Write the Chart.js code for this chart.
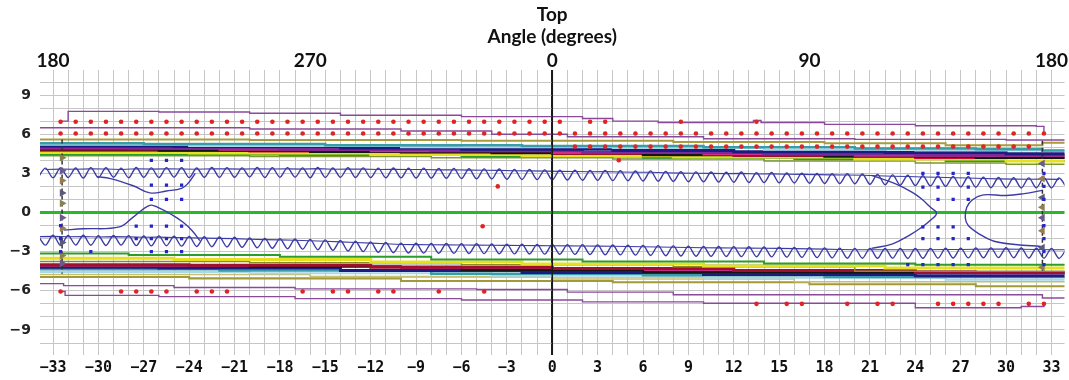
<!DOCTYPE html>
<html>
<head>
<meta charset="utf-8">
<script src="https://cdn.jsdelivr.net/npm/chart.js@4.4.0/dist/chart.umd.min.js"></script>
<style>
  body { margin: 0; background: #fff; }
  #wrap { width: 1069px; height: 380px; }
</style>
</head>
<body>
<div id="wrap"><canvas id="chart" width="1069" height="380"></canvas></div>
<script>
// --- axes ---
const X_MIN = -33.86, X_MAX = 33.86;
const xGrid = [-33,-32,-31,-30,-29,-28,-27,-26,-25,-24,-23,-22,-21,-20,-19,-18,-17,-16,-15,-14,-13,-12,-11,-10,-9,-8,-7,-6,-5,-4,-3,-2,-1,
  0,1,2,3,4,5,6,7,8,9,10,11,12,13,14,15,16,17,18,19,20,21,22,23,24,25,26,27,28,29,30,31,32,33];
const yGrid = [-10,-9,-8,-7,-6,-5,-4,-3,-2,-1,0,1,2,3,4,5,6,7,8,9,10];
const bottomLabelAt = [-33,-30,-27,-24,-21,-18,-15,-12,-9,-6,-3,0,3,6,9,12,15,18,21,24,27,30,33];
const leftLabelAt = [-9,-6,-3,0,3,6,9];
const topLabelAt = [-33, -16, 0, 17, 33];
const topLabels = ['180', '270', '0', '90', '180'];
const centreLineY = [10.92, -10.92]; // the 0-degree line runs through both tick rows

// --- red dot rows (x positions, one y per row) ---
const redRowAx = [-32.5,-31.5,-30.5,-29.5,-28.5,-27.5,-26.5,-25.5,-24.5,-23.5,-22.5,-21.5,-20.5,-19.5,-18.5,-17.5,-16.5,-15.5,-14.5,-13.5,
  -12.5,-11.5,-10.5,-9.5,-8.5,-7.5,-6.5,-5.5,-4.5,-3.5,-2.5,-1.5,-0.5,0.5,2.5,3.5,8.5,13.5];
const redRowAy = 6.95;
const redRowBx = [-32.5,-31.5,-30.5,-29.5,-28.5,-27.5,-26.5,-25.5,-24.5,-23.5,-22.5,-21.5,-20.5,-19.5,-18.5,-17.5,-16.5,-15.5,-14.5,-13.5,
  -12.5,-11.5,-10.5,-9.5,-8.5,-7.5,-6.5,-5.5,-4.5,-3.5,-2.5,-1.5,-0.5,0.5,1.5,2.5,3.5,4.5,5.5,6.5,7.5,8.5,9.5,10.5,11.5,12.5,13.5,14.5,
  15.5,16.5,17.5,18.5,19.5,20.5,21.5,22.5,23.5,24.5,25.5,26.5,27.5,28.5,29.5,30.5,31.5,32.5];
const redRowBy = 6.05;
const redRowCx = [1.5,2.5,3.5,4.5,5.5,6.5,7.5,8.5,9.5,10.5,11.5,12.5,13.5,14.5,15.5,16.5,17.5,18.5,19.5,20.5,21.5,22.5,23.5,24.5,
  25.5,26.5,27.5,28.5,29.5,30.5,31.5];
const redRowCy = 5.05;
const redRowDx = [-32.5,-28.5,-27.5,-26.5,-25.5,-23.5,-22.5,-21.5,-16.5,-14.5,-13.5,-11.5,-10.5,-7.5,-4.5];
const redRowDy = -6.05;
const redRowEx = [13.5,15.5,16.5,19.5,21.5,22.5,25.5,26.5,27.5,28.5,29.5,31.5,32.5];
const redRowEy = -7.0;
const redSingles = [[-3.6, 2.0], [-4.6, -1.05], [4.4, 4.0]];

// --- blue dot clusters ---
const blueLeft = [[-26.5,4.0],[-25.5,4.0],[-24.5,4.0],[-26.5,2.1],[-25.5,2.1],[-24.5,2.1],[-26.5,1.0],[-25.5,1.0],[-24.5,1.0],
  [-32.5,-1.0],[-27.5,-1.05],[-26.5,-1.05],[-25.5,-1.05],[-24.5,-1.05],[-32.5,-2.0],[-27.5,-2.0],[-26.5,-2.0],[-25.5,-2.0],[-24.5,-2.0],
  [-32.5,-3.0],[-30.5,-3.0],[-26.5,-3.0],[-25.5,-3.0],[-24.5,-3.0]];
const blueRight = [[24.5,3.0],[25.5,3.0],[26.5,3.0],[27.5,3.0],[24.5,1.95],[25.5,1.95],[27.5,1.95],[25.5,1.0],[26.5,1.0],[27.5,1.0],
  [24.5,-1.1],[25.5,-1.1],[26.5,-1.1],[24.5,-2.0],[25.5,-2.0],[26.5,-2.0],[27.5,-2.0],
  [23.5,-4.0],[24.5,-4.0],[25.5,-4.0],[26.5,-4.0],[27.5,-4.0],
  [32.5,3.0],[32.5,2.0],[32.5,1.0],[32.5,-1.0],[32.5,-2.0],[32.5,-3.0],[32.5,-4.0]];

// --- edge markers on the dashed lines ---
const edgeLeftY = [4.2, 3.2, 2.45, 1.5, 0.7, -0.4, -1.2, -2.3, -3.3, -3.9];
const edgeRightY = [3.75, 2.6, 1.15, 0.4, -0.4, -1.4, -2.7, -4.2];
const edgeX = 32.4;

// --- blue waves: top wave troughs at integers (from -34), peaks at half integers (from -33.5) ---
const topWaveLo = [2.65,2.66,2.68,2.64,2.67,2.70,2.66,2.69,2.68,2.71,2.67,2.70,2.69,2.70,
  2.72,2.68,2.70,2.71,2.66,2.69,2.70,2.68,2.67,2.66,
  2.65,2.64,2.63,2.62,2.60,2.58,2.57,2.55,2.53,2.52,
  2.50,2.49,2.47,2.46,2.44,2.43,2.41,2.40,2.38,2.36,
  2.35,2.33,2.32,2.30,2.29,2.27,2.26,2.24,2.22,2.21,
  2.20,2.16,2.13,2.10,2.06,2.03,2.00,1.96,1.93,1.90,
  1.90,1.88,1.90,1.89,1.90];
const topWaveHi = [3.40,3.42,3.41,3.44,3.43,3.40,3.45,3.42,3.44,3.43,3.41,3.45,3.44,3.42,
  3.45,3.43,3.44,3.42,3.46,3.41,3.43,3.42,3.40,3.41,
  3.39,3.40,3.37,3.38,3.35,3.34,3.33,3.30,3.29,3.27,
  3.25,3.24,3.22,3.23,3.20,3.18,3.19,3.15,3.12,3.11,
  3.10,3.08,3.10,3.05,3.06,3.03,3.02,3.00,2.98,2.97,
  2.95,2.92,2.88,2.86,2.82,2.80,2.76,2.74,2.70,2.68,
  2.66,2.65,2.66,2.64];
// bottom wave: peaks at integers (from -34), troughs at half integers (from -33.5)
const botWaveHi = [-1.75,-1.73,-1.76,-1.74,-1.78,-1.75,-1.77,-1.80,-1.79,-1.82,-1.84,-1.86,-1.88,-1.90,
  -1.95,-1.98,-2.00,-2.03,-2.06,-2.10,-2.15,-2.20,-2.25,-2.30,
  -2.35,-2.36,-2.37,-2.38,-2.39,-2.40,-2.41,-2.42,-2.43,-2.44,
  -2.45,-2.46,-2.47,-2.48,-2.49,-2.50,-2.52,-2.54,-2.56,-2.58,
  -2.60,-2.61,-2.62,-2.63,-2.64,-2.65,-2.67,-2.69,-2.71,-2.73,
  -2.75,-2.75,-2.76,-2.75,-2.76,-2.75,-2.74,-2.73,-2.72,-2.71,
  -2.70,-2.72,-2.74,-2.75,-2.76];
const botWaveLo = [-2.50,-2.52,-2.49,-2.51,-2.53,-2.50,-2.54,-2.56,-2.55,-2.58,-2.60,-2.62,-2.64,-2.67,
  -2.70,-2.74,-2.78,-2.81,-2.85,-2.90,-2.95,-3.00,-3.05,-3.08,
  -3.10,-3.11,-3.12,-3.13,-3.14,-3.15,-3.16,-3.17,-3.18,-3.19,
  -3.20,-3.21,-3.22,-3.24,-3.25,-3.27,-3.29,-3.31,-3.33,-3.35,
  -3.36,-3.37,-3.38,-3.39,-3.40,-3.42,-3.44,-3.46,-3.48,-3.50,
  -3.50,-3.51,-3.50,-3.52,-3.51,-3.50,-3.49,-3.48,-3.47,-3.46,
  -3.47,-3.49,-3.50,-3.52];

// --- inner contours ---
const contourLeftUpper = [[-30.1,2.75],[-29.2,2.6],[-27.7,2.05],[-26.6,1.5],[-25.5,1.65],[-24.5,1.85],[-24.1,2.2],[-23.6,3.0]];
const contourLeftLower = [[-32.3,-1.35],[-31,-1.25],[-28.6,-1.1],[-27.7,-0.35],[-26.6,0.55],[-26,0.35],[-25.1,-0.2],[-24.4,-0.75],[-23.8,-1.4],[-23.3,-2.15]];
const contourRightA = [[21.1,2.85],[22.7,2.2],[23.8,1.55],[24.4,1.05],[25.0,0.4],[25.4,-0.05],[25.0,-0.6],[24.4,-1.15],[23.6,-1.75],[22.5,-2.4],[21.1,-2.75]];
const contourRightB = [[32.4,1.7],[31.2,1.45],[30,1.3],[28.5,1.35],[27.8,1.0],[27.4,0.4],[27.3,-0.4],[27.5,-1.0],[28.3,-1.7],[29.2,-2.2],[30.6,-2.45],[32.3,-2.6]];

// --- purple envelopes (stepped) ---
const envTopOuter = [[-32.5,7.0],[-32.0,7.75],[-26,7.7],[-20,7.6],[-14,7.45],[-6,7.35],[2,7.2],[4,7.0],[7,6.9],[13.3,7.05],[13.8,6.9],[18,6.75],[24,6.65],[32,6.6],[32.5,6.05]];
const envTopInner = [[-33.9,6.5],[-20,6.4],[-10,6.25],[-4,6.0],[1,5.8],[10,5.65],[20,5.6],[30,5.55],[33.9,5.5]];
const envBotInner = [[-33.9,-5.45],[-32.3,-5.6],[-25,-5.75],[-17,-5.85],[-5,-5.9],[1,-6.1],[8,-6.3],[32.4,-6.55],[33.9,-6.55]];
const envBotOuter = [[-32.5,-6.05],[-32.2,-6.35],[-26,-6.45],[-17,-6.6],[-6,-6.7],[2,-6.85],[10,-6.95],[24,-7.3],[31,-7.2],[32.5,-7.0]];

// --- coloured bands (stepped) ---
const topBand = [
  { color: '#a89c3c', w: 2,   pts: [[-33.9,5.6],[-20,5.55],[-6,5.5],[8,5.4],[18,5.3],[26,5.15],[32.4,5.35],[33.9,5.35]] },
  { color: '#3a9ca8', w: 2.5, pts: [[-33.9,5.3],[-27,5.25],[-15,5.15],[-2,5.1],[10,5.0],[20,4.9],[28,4.85],[32.4,4.75],[33.9,4.75]] },
  { color: '#a8d8e8', w: 2,   pts: [[-33.9,5.2],[-24,5.1],[-10,5.0],[4,4.95],[14,4.8],[24,4.75],[33.9,4.7]] },
  { color: '#1c1c80', w: 3,   pts: [[-33.9,5.1],[-25,5.05],[-14,4.95],[-6,4.85],[4,4.75],[12,4.65],[22,4.6],[30,4.5],[33.9,4.5]] },
  { color: '#7a2a9a', w: 3,   pts: [[-33.9,5.0],[-28,4.95],[-18,4.85],[-8,4.75],[2,4.6],[14,4.5],[24,4.4],[33.9,4.35]] },
  { color: '#d42a8a', w: 2,   pts: [[-33.9,4.9],[-22,4.8],[-12,4.7],[0,4.55],[10,4.45],[20,4.35],[33.9,4.25]] },
  { color: '#151515', w: 2.5, pts: [[-33.9,4.85],[-26,4.75],[-16,4.65],[-4,4.55],[6,4.4],[18,4.3],[28,4.2],[33.9,4.2]] },
  { color: '#c8102e', w: 2.5, pts: [[-33.9,4.75],[-20,4.7],[-10,4.6],[0,4.5],[12,4.35],[24,4.2],[33.9,4.1]] },
  { color: '#e6e020', w: 3,   pts: [[-33.9,4.6],[-24,4.55],[-12,4.45],[-2,4.35],[8,4.25],[20,4.1],[30,3.95],[33.9,3.9]] },
  { color: '#2c9c2c', w: 2,   pts: [[-33.9,4.45],[-18,4.4],[-6,4.3],[6,4.2],[16,4.1],[26,3.95],[33.9,3.85]] },
  { color: '#7a9a30', w: 1.5, pts: [[-33.9,4.35],[-20,4.3],[-8,4.2],[4,4.1],[14,3.95],[24,3.8],[30,3.7],[33.9,3.7]] }
];
const bottomBand = [
  { color: '#2c9c2c', w: 2,   pts: [[-33.9,-3.15],[-28,-3.25],[-18,-3.4],[-8,-3.6],[2,-3.75],[14,-3.9],[24,-4.0],[33.9,-4.0]] },
  { color: '#e6e020', w: 3,   pts: [[-33.9,-3.5],[-25,-3.6],[-12,-3.8],[-2,-3.95],[10,-4.1],[22,-4.25],[33.9,-4.3]] },
  { color: '#8a8a2a', w: 1.5, pts: [[-33.9,-3.75],[-20,-3.85],[-6,-4.0],[8,-4.15],[20,-4.5],[33.9,-4.55]] },
  { color: '#a0102c', w: 3,   pts: [[-33.9,-4.0],[-24,-4.05],[-12,-4.2],[0,-4.3],[12,-4.45],[24,-4.6],[33.9,-4.7]] },
  { color: '#151515', w: 2,   pts: [[-33.9,-4.05],[-20,-4.15],[-6,-4.4],[6,-4.55],[18,-4.6],[33.9,-4.75]] },
  { color: '#c42a8a', w: 2,   pts: [[-33.9,-4.1],[-22,-4.1],[-10,-4.25],[4,-4.4],[16,-4.5],[28,-4.65],[33.9,-4.65]] },
  { color: '#1c1c80', w: 3,   pts: [[-33.9,-4.2],[-26,-4.25],[-14,-4.45],[-2,-4.6],[10,-4.75],[24,-4.85],[33.9,-4.9]] },
  { color: '#3a9ca8', w: 2.5, pts: [[-33.9,-4.35],[-22,-4.45],[-8,-4.7],[6,-4.8],[18,-4.95],[33.9,-5.05]] },
  { color: '#a8d8e8', w: 2,   pts: [[-33.9,-4.55],[-20,-4.65],[-4,-4.85],[10,-5.0],[26,-5.15],[33.9,-5.2]] },
  { color: '#c8c070', w: 1.5, pts: [[-33.9,-4.75],[-16,-4.9],[0,-5.1],[16,-5.3],[33.9,-5.4]] },
  { color: '#a09a38', w: 2,   pts: [[-33.9,-4.95],[-24,-5.05],[-10,-5.25],[4,-5.35],[17,-5.5],[28,-5.65],[33.9,-5.7]] }
];

const GRID = '#c6c6c6';
const WAVE = '#3c3ca6';
const PURPLE = '#8a4a9a';

// helpers
const pairs = list => list.map(([x, y]) => ({ x, y }));
const row = (xs, y) => xs.map(x => ({ x, y }));
const minus = v => v < 0 ? '\u2212' + Math.abs(v) : String(v);

// merge two alternating series into one zigzag
function zigzag(a, aStart, b, bStart) {
  const pts = a.map((y, i) => ({ x: aStart + i, y })).concat(b.map((y, i) => ({ x: bStart + i, y })));
  return pts.sort((p, q) => p.x - q.x);
}

function line(points, color, width, extra) {
  return Object.assign({ data: points, borderColor: color, borderWidth: width, pointRadius: 0, fill: false, tension: 0 }, extra || {});
}
function dots(points, color, style, r) {
  return { data: points, showLine: false, pointRadius: r, pointStyle: style, pointBackgroundColor: color, pointBorderWidth: 0, borderColor: color };
}

const datasets = [];
// dots on top
datasets.push(dots(row(redRowAx, redRowAy).concat(row(redRowBx, redRowBy), row(redRowCx, redRowCy),
  row(redRowDx, redRowDy), row(redRowEx, redRowEy), pairs(redSingles)), '#e02424', 'circle', 2.3));
datasets.push(dots(pairs(blueLeft).concat(pairs(blueRight)), '#2626c8', 'rect', 2.3));

// solid centre line at 0 degrees
datasets.push(line(centreLineY.map(y => ({ x: 0, y })), '#1a1a1a', 1.6, { clip: false }));

// markers on dashed edges
const markColors = ['#8a8050', '#6a5a90', '#9a7a50', '#5a5a7a'];
datasets.push(Object.assign(dots(edgeLeftY.map(y => ({ x: -edgeX, y })),
  edgeLeftY.map((_, i) => markColors[i % 4]), 'triangle', 4.5), { rotation: 90 }));
datasets.push(Object.assign(dots(edgeRightY.map(y => ({ x: edgeX, y })),
  edgeRightY.map((_, i) => markColors[(i + 1) % 4]), 'triangle', 4.5), { rotation: -90 }));
datasets.push(line([{ x: -edgeX, y: 5.6 }, { x: -edgeX, y: -4.7 }], '#333', 1.5, { borderDash: [4, 3] }));
datasets.push(line([{ x: edgeX, y: 5.5 }, { x: edgeX, y: -4.7 }], '#333', 1.5, { borderDash: [4, 3] }));

// contours
[contourLeftUpper, contourLeftLower, contourRightA, contourRightB].forEach(c => {
  datasets.push(line(pairs(c), WAVE, 1.4, { tension: 0.4 }));
});

// waves (slightly rounded) with their ridge lines
datasets.push(line(zigzag(topWaveLo, -34, topWaveHi, -33.5), WAVE, 1.4, { tension: 0.3 }));
datasets.push(line(topWaveHi.map((y, i) => ({ x: -33.5 + i, y: y - 0.1 })), WAVE, 1.1));
datasets.push(line(zigzag(botWaveHi, -34, botWaveLo, -33.5), WAVE, 1.4, { tension: 0.3 }));
datasets.push(line(botWaveHi.map((y, i) => ({ x: -34 + i, y: y - 0.1 })), WAVE, 1.1));

// envelopes
[envTopOuter, envTopInner, envBotInner, envBotOuter].forEach(e => {
  datasets.push(line(pairs(e), PURPLE, 1.4, { stepped: true }));
});

// bands
topBand.concat(bottomBand).forEach(b => {
  datasets.push(line(pairs(b.pts), b.color, b.w, { stepped: true }));
});

const gridColor = zeroColor => c => (c.tick && c.tick.value === 0 ? zeroColor : GRID);

new Chart(document.getElementById('chart'), {
  type: 'line',
  data: { datasets },
  options: {
    responsive: false,
    animation: false,
    layout: { padding: { left: 0, right: 4, top: 0, bottom: 0 } },
    plugins: { legend: { display: false }, tooltip: { enabled: false } },
    scales: {
      x: {
        type: 'linear', position: 'bottom', min: X_MIN, max: X_MAX,
        afterBuildTicks: s => { s.ticks = xGrid.map(v => ({ value: v })); },
        afterFit: s => { s.height = 37; },
        border: { display: false },
        grid: { color: gridColor('#222'), lineWidth: c => (c.tick && c.tick.value === 0 ? 1.6 : 1), tickLength: 12 },
        ticks: {
          autoSkip: false, maxRotation: 0, padding: 4, color: '#111',
          font: { family: 'DejaVu Sans Mono', size: 15, weight: 'bold' },
          callback: v => (bottomLabelAt.includes(v) ? minus(v) : '')
        }
      },
      x2: {
        type: 'linear', axis: 'x', position: 'top', min: X_MIN, max: X_MAX,
        afterBuildTicks: s => { s.ticks = xGrid.map(v => ({ value: v })); },
        afterFit: s => { s.height = 82; },
        border: { display: false },
        grid: { drawOnChartArea: false, color: gridColor('#222'), lineWidth: c => (c.tick && c.tick.value === 0 ? 1.6 : 1), tickLength: 12 },
        ticks: {
          autoSkip: false, maxRotation: 0, padding: 0, color: '#111',
          font: { family: 'Lato', size: 19, weight: 'bold', lineHeight: 1.0 },
          callback: v => { const i = topLabelAt.indexOf(v); return i >= 0 ? topLabels[i] : ''; }
        },
        title: {
          display: true, text: ['Top', 'Angle (degrees)'], color: '#111',
          font: { family: 'Lato', size: 19, weight: 'bold', lineHeight: 1.15 },
          padding: { top: 4, bottom: 0 }
        }
      },
      y: {
        type: 'linear', min: -10, max: 10,
        afterBuildTicks: s => { s.ticks = yGrid.map(v => ({ value: v })); },
        afterFit: s => { s.width = 40; },
        border: { display: false },
        grid: { color: gridColor('#28b828'), lineWidth: c => (c.tick && c.tick.value === 0 ? 3 : 1), drawTicks: false },
        ticks: {
          autoSkip: false, padding: 9, color: '#222',
          font: { family: 'DejaVu Sans', size: 14, weight: 'bold' },
          callback: v => (leftLabelAt.includes(v) ? minus(v) : '')
        }
      }
    }
  }
});
</script>
</body>
</html>
